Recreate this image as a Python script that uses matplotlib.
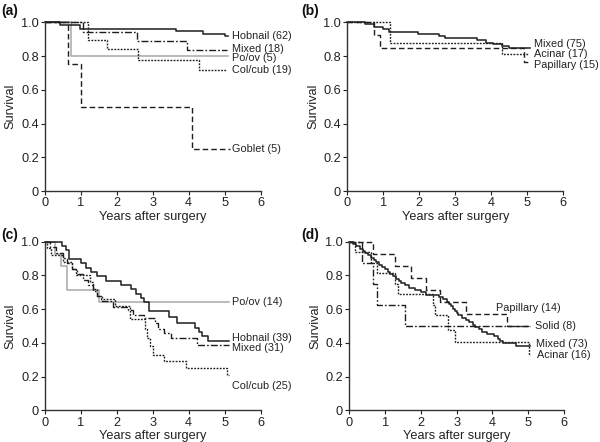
import matplotlib
matplotlib.use("Agg")
import matplotlib.pyplot as plt

plt.rcParams['font.family'] = ['Liberation Sans', 'DejaVu Sans']

# ---------------- Panel (a) ----------------
a_hob_t = [0, 0.42, 0.98, 3.65, 4.4, 5.0, 5.1]
a_hob_s = [1, 0.984, 0.963, 0.947, 0.933, 0.918, 0.918]
a_mix_t = [0, 1.07, 2.56, 3.95, 5.07]
a_mix_s = [1, 0.944, 0.889, 0.833, 0.833]
a_poov_t = [0, 0.72, 5.1]
a_poov_s = [1, 0.8, 0.8]
a_col_t = [0, 1.21, 1.72, 2.6, 4.3, 5.07]
a_col_s = [1, 0.895, 0.842, 0.778, 0.72, 0.72]
a_gob_t = [0, 0.65, 1.0, 4.09, 5.16]
a_gob_s = [1, 0.75, 0.5, 0.25, 0.25]
a_labels = ["Hobnail (62)", "Mixed (18)", "Po/ov (5)", "Col/cub (19)", "Goblet (5)"]
a_label_y = [0.92, 0.843, 0.788, 0.715, 0.25]

# ---------------- Panel (b) ----------------
b_mix_t = [0, 0.5, 0.75, 1.0, 1.15, 1.95, 2.55, 2.7, 3.6, 3.85, 4.05, 4.3, 4.5, 5.08]
b_mix_s = [1, 0.987, 0.973, 0.96, 0.943, 0.932, 0.92, 0.905, 0.893, 0.88, 0.87, 0.86, 0.848, 0.848]
b_aci_t = [0, 1.19, 4.3, 5.05]
b_aci_s = [1, 0.876, 0.81, 0.81]
b_pap_t = [0, 0.73, 0.92, 4.9, 5.08]
b_pap_s = [1, 0.923, 0.846, 0.767, 0.767]
b_labels = ["Mixed (75)", "Acinar (17)", "Papillary (15)"]
b_label_y = [0.87, 0.81, 0.745]

# ---------------- Panel (c) ----------------
c_hob_t = [0, 0.48, 0.58, 0.67, 0.99, 1.13, 1.27, 1.46, 1.69, 2.11, 2.39, 2.53, 2.67,
           2.76, 2.9, 3.44, 3.67, 4.19, 4.28, 4.37, 4.55, 5.12]
c_hob_s = [1, 0.974, 0.949, 0.897, 0.872, 0.846, 0.821, 0.795, 0.769, 0.744, 0.718, 0.692,
           0.667, 0.641, 0.59, 0.556, 0.516, 0.487, 0.462, 0.44, 0.41, 0.41]
c_mix_t = [0, 0.15, 0.3, 0.5, 0.6, 0.75, 0.9, 1.05, 1.2, 1.35, 1.45, 1.6, 1.9, 2.3, 2.45,
           2.75, 3.05, 3.15, 3.3, 3.5, 4.23, 5.12]
c_mix_s = [1, 0.968, 0.935, 0.903, 0.871, 0.839, 0.806, 0.774, 0.742, 0.71, 0.677, 0.645,
           0.613, 0.597, 0.565, 0.548, 0.516, 0.484, 0.458, 0.43, 0.39, 0.39]
c_poov_t = [0, 0.28, 0.45, 0.62, 1.5, 5.12]
c_poov_s = [1, 0.929, 0.857, 0.714, 0.643, 0.643]
c_col_t = [0, 0.05, 0.17, 0.5, 0.75, 0.85, 1.25, 1.35, 1.45, 1.55, 1.95, 2.36, 2.78, 2.85,
           2.92, 3.0, 3.32, 3.93, 5.07, 5.12]
c_col_s = [1, 0.96, 0.92, 0.88, 0.84, 0.80, 0.76, 0.72, 0.68, 0.66, 0.62, 0.54, 0.48, 0.43,
           0.38, 0.33, 0.29, 0.25, 0.21, 0.21]
c_labels = ["Po/ov (14)", "Hobnail (39)", "Mixed (31)", "Col/cub (25)"]
c_label_y = [0.64, 0.43, 0.37, 0.145]

# ---------------- Panel (d) ----------------
d_pap_t = [0, 0.66, 1.27, 1.73, 2.15, 2.53, 3.27, 4.4, 5.05]
d_pap_s = [1, 0.929, 0.857, 0.786, 0.714, 0.643, 0.571, 0.5, 0.5]
d_sol_t = [0, 0.35, 0.66, 0.78, 1.57, 5.05]
d_sol_s = [1, 0.875, 0.75, 0.625, 0.5, 0.5]
d_aci_t = [0, 0.15, 0.6, 0.78, 1.27, 1.36, 2.34, 2.4, 2.76, 2.95, 5.03, 5.05]
d_aci_s = [1, 0.9375, 0.875, 0.8125, 0.75, 0.6875, 0.625, 0.5625, 0.475, 0.405, 0.33, 0.33]
d_mix_t = [0, 0.1, 0.2, 0.3, 0.38, 0.45, 0.52, 0.6, 0.68, 0.76, 0.83, 0.92, 1.0, 1.08, 1.15,
           1.22, 1.3, 1.38, 1.45, 1.55, 1.68, 1.85, 2.0, 2.15, 2.5, 2.62, 2.72, 2.78, 2.85,
           2.9, 2.95, 3.0, 3.05, 3.15, 3.25, 3.35, 3.45, 3.52, 3.62, 3.7, 3.85, 4.05, 4.15,
           4.22, 4.3, 4.65, 5.05]
d_mix_s = [1, 0.986, 0.973, 0.959, 0.945, 0.932, 0.918, 0.904, 0.89, 0.877, 0.863, 0.849,
           0.836, 0.822, 0.808, 0.795, 0.781, 0.767, 0.753, 0.74, 0.726, 0.712, 0.699, 0.685,
           0.671, 0.658, 0.644, 0.63, 0.616, 0.603, 0.589, 0.575, 0.562, 0.548, 0.534, 0.521,
           0.507, 0.493, 0.479, 0.466, 0.452, 0.438, 0.425, 0.411, 0.397, 0.384, 0.384]
d_labels = ["Papillary (14)", "Solid (8)", "Mixed (73)", "Acinar (16)"]
d_label_x = [4.1, 5.2, 5.22, 5.25]
d_label_y = [0.605, 0.5, 0.395, 0.33]

x_ticks = [0, 1, 2, 3, 4, 5, 6]
y_ticks = [0, 0.2, 0.4, 0.6, 0.8, 1.0]
y_ticklabels = ["0", "0.2", "0.4", "0.6", "0.8", "1.0"]

DARK = '#1e1e1e'
GRAY = '#a8a8a8'
SOLID = dict(color=DARK, lw=1.1, ls='-')
DASHDOT = dict(color=DARK, lw=1.0, ls=(0, (5, 1.5, 1.2, 1.5)))
DOTTED = dict(color=DARK, lw=1.0, ls=(0, (1.3, 1.0)))
DASHED = dict(color=DARK, lw=1.0, ls=(0, (4, 2.2)))
GRAYL = dict(color=GRAY, lw=1.1, ls='-')

fig = plt.figure(figsize=(6.0, 4.42), dpi=100)

W = 215.5 / 600
H = 168.7 / 442
pos = {
    'a': [45 / 600, 1 - 191 / 442, W, H],
    'b': [347.3 / 600, 1 - 191 / 442, 216 / 600, H],
    'c': [45 / 600, 1 - 410.3 / 442, W, H],
    'd': [349.3 / 600, 1 - 410.3 / 442, 214.7 / 600, H],
}


def setup(ax):
    ax.set_xlim(0, 6)
    ax.set_ylim(0, 1.0)
    for s in ['top', 'right']:
        ax.spines[s].set_visible(False)
    for s in ['left', 'bottom']:
        ax.spines[s].set_color('#333333')
        ax.spines[s].set_linewidth(1.0)
    ax.set_xticks(x_ticks)
    ax.set_yticks(y_ticks)
    ax.set_yticklabels(y_ticklabels)
    ax.tick_params(axis='both', length=3, width=0.8, pad=1.5, labelsize=9.2,
                   colors='#222222')
    ax.set_xlabel('Years after surgery', fontsize=9.2, labelpad=1, color='#222222')
    ax.set_ylabel('Survival', fontsize=9.2, labelpad=3, color='#222222')


def curve(ax, t, s, style):
    ax.step(t, s, where='post', clip_on=False, **style)


def label(ax, x, y, txt):
    ax.text(x, y, txt, fontsize=7.8, va='center', ha='left', color='#222222')


# (a)
ax = fig.add_axes(pos['a'])
setup(ax)
curve(ax, a_poov_t, a_poov_s, GRAYL)
curve(ax, a_gob_t, a_gob_s, DASHED)
curve(ax, a_col_t, a_col_s, DOTTED)
curve(ax, a_mix_t, a_mix_s, DASHDOT)
curve(ax, a_hob_t, a_hob_s, SOLID)
for txt, yy in zip(a_labels, a_label_y):
    label(ax, 5.22, yy, txt)

# (b)
ax = fig.add_axes(pos['b'])
setup(ax)
curve(ax, b_pap_t, b_pap_s, DASHED)
curve(ax, b_aci_t, b_aci_s, DOTTED)
curve(ax, b_mix_t, b_mix_s, SOLID)
for txt, yy in zip(b_labels, b_label_y):
    label(ax, 5.2, yy, txt)

# (c)
ax = fig.add_axes(pos['c'])
setup(ax)
curve(ax, c_poov_t, c_poov_s, GRAYL)
curve(ax, c_col_t, c_col_s, DOTTED)
curve(ax, c_mix_t, c_mix_s, DASHDOT)
curve(ax, c_hob_t, c_hob_s, SOLID)
for txt, yy in zip(c_labels, c_label_y):
    label(ax, 5.22, yy, txt)

# (d)
ax = fig.add_axes(pos['d'])
setup(ax)
curve(ax, d_pap_t, d_pap_s, DASHED)
curve(ax, d_sol_t, d_sol_s, DASHDOT)
curve(ax, d_aci_t, d_aci_s, DOTTED)
curve(ax, d_mix_t, d_mix_s, SOLID)
for txt, xx, yy in zip(d_labels, d_label_x, d_label_y):
    label(ax, xx, yy, txt)

for letter, x, y in [('(a)', 0.0, 1.0), ('(b)', 0.5, 1.0), ('(c)', 0.0, 1 - 224 / 442),
                     ('(d)', 0.5, 1 - 224 / 442)]:
    fig.text(x + 0.002, y - 0.008, letter, fontsize=10, fontweight='bold',
             va='top', ha='left', color='#111111')

fig.savefig('out.png', dpi=100)
